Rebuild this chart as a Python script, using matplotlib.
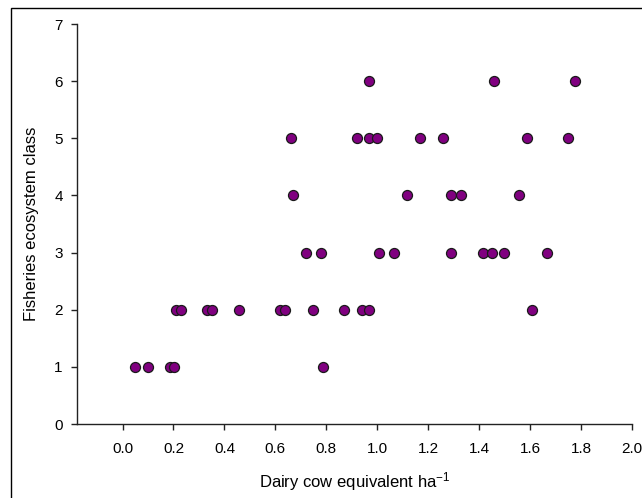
import matplotlib
matplotlib.use("Agg")
import matplotlib.pyplot as plt
from matplotlib.patches import Rectangle

plt.rcParams['font.family'] = ['Liberation Sans', 'DejaVu Sans']
plt.rcParams['mathtext.fontset'] = 'custom'
plt.rcParams['mathtext.rm'] = 'Liberation Sans'
plt.rcParams['mathtext.default'] = 'regular'

# Data
cow_eq = [0.05, 0.10, 0.187, 0.201, 0.788,
          0.21, 0.23, 0.33, 0.35, 0.457, 0.618, 0.638, 0.748, 0.868, 0.939, 0.968, 1.608,
          0.719, 0.778, 1.008, 1.067, 1.288, 1.416, 1.449, 1.498, 1.667,
          0.668, 1.117, 1.288, 1.328, 1.557,
          0.66, 0.919, 0.967, 0.999, 1.167, 1.257, 1.587, 1.748,
          0.967, 1.458, 1.777]
eco_class = [1, 1, 1, 1, 1,
             2, 2, 2, 2, 2, 2, 2, 2, 2, 2, 2, 2,
             3, 3, 3, 3, 3, 3, 3, 3, 3,
             4, 4, 4, 4, 4,
             5, 5, 5, 5, 5, 5, 5, 5,
             6, 6, 6]
x_ticks = [0.0, 0.2, 0.4, 0.6, 0.8, 1.0, 1.2, 1.4, 1.6, 1.8, 2.0]
y_ticks = [0, 1, 2, 3, 4, 5, 6, 7]

fig = plt.figure(figsize=(6.42, 4.98), dpi=100)
ax = fig.add_axes([76.7/642, 1 - 424/498, (632 - 76.7)/642, (424 - 24)/498])

ax.scatter(cow_eq, eco_class, s=7.2**2, c='#800080', edgecolors='#1a1a1a',
           linewidths=0.9, zorder=3, clip_on=False)

ax.set_xlim(-0.18, 2.0)
ax.set_ylim(0, 7)
ax.set_xticks(x_ticks)
ax.set_xticklabels([f"{v:.1f}" for v in x_ticks])
ax.set_yticks(y_ticks)
ax.set_yticklabels([str(v) for v in y_ticks])

for s in ['top', 'right']:
    ax.spines[s].set_visible(False)
for s in ['left', 'bottom']:
    ax.spines[s].set_linewidth(1.0)
    ax.spines[s].set_color('#222222')

ax.tick_params(axis='both', direction='out', length=4, width=1.0, colors='#222222',
               labelsize=11, labelcolor='black')
ax.tick_params(axis='x', pad=9)
ax.tick_params(axis='y', pad=6)

ax.set_xlabel('Dairy cow equivalent ha$^{\\mathrm{-1}}$', fontsize=12, labelpad=10)
ax.set_ylabel('Fisheries ecosystem class', fontsize=12, labelpad=11)

# outer border of the figure
fig.patches.append(Rectangle((11/642, -0.2), 2.0, (498 - 8)/498 + 0.2,
                             transform=fig.transFigure, fill=False,
                             edgecolor='black', linewidth=1.0, figure=fig))

fig.savefig('out.png', dpi=100)
